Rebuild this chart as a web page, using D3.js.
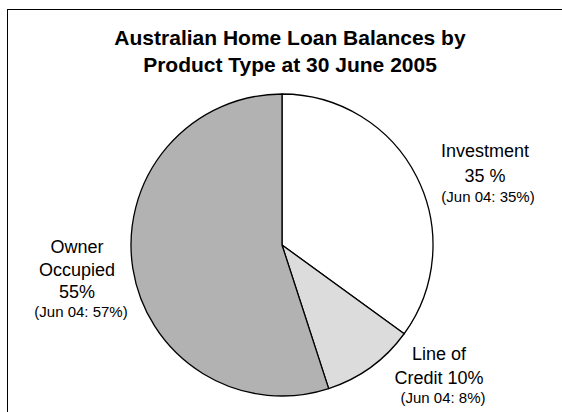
<!DOCTYPE html>
<html>
<head>
<meta charset="utf-8">
<style>
  body{
    margin:0;
    background-color:#fff;
  }
  #vis{
    display:block;
  }
  text{
    font-family: Arial, "Liberation Sans", sans-serif;
    fill:#000;
  }
</style>
<script src="https://d3js.org/d3.v7.min.js"></script>
</head>
<body>
<svg id="vis"></svg>
<script>
  var width = 562,
    height = 412;

  // data -------------------------------------------------
  var categories = ["Investment", "Line of Credit", "Owner Occupied"];
  var shares = [35, 10, 55];
  var priorShares = [35, 8, 57];
  var titleLines = ["Australian Home Loan Balances by", "Product Type at 30 June 2005"];
  var labelLines = [
    ["Investment", "35 %"],
    ["Line of", "Credit 10%"],
    ["Owner", "Occupied", "55%"]
  ];
  var priorLabels = priorShares.map(function(d){ return "(Jun 04: " + d + "%)"; });

  // layout -------------------------------------------------
  var cx = 282, cy = 245, radius = 151;
  var fills = ["#ffffff", "#dcdcdc", "#b2b2b2"];
  // label anchor (x centre, first baseline, line step, prior label baseline, prior x)
  var labelPos = [
    {x: 485, y: 157, step: 25, py: 202, px: 488},
    {x: 439, y: 360, step: 24, py: 403, px: 443},
    {x: 77, y: 253, step: 22.5, py: 317, px: 81}
  ];

  var svg = d3.select("#vis")
    .attr("width", width)
    .attr("height", height);

  // frame
  svg.append("rect")
    .attr("x", 7.5)
    .attr("y", 9.5)
    .attr("width", width)
    .attr("height", height)
    .style("fill", "#fff")
    .style("stroke", "#000")
    .style("stroke-width", 1);

  // title
  svg.append("g")
    .selectAll("text")
    .data(titleLines)
    .enter().append("text")
    .attr("x", 290)
    .attr("y", function(d, i){ return 45 + i * 27; })
    .attr("text-anchor", "middle")
    .style("font-size", "21px")
    .style("font-weight", "bold")
    .text(function(d){ return d; });

  // pie -------------------------------------------------
  var pie = d3.pie().sort(null).value(function(d){ return d; });
  var arc = d3.arc().innerRadius(0).outerRadius(radius);

  svg.append("g")
    .attr("transform", "translate(" + cx + "," + cy + ")")
    .selectAll("path")
    .data(pie(shares))
    .enter().append("path")
    .attr("d", arc)
    .style("fill", function(d, i){ return fills[i]; })
    .style("stroke", "#000")
    .style("stroke-width", 1.3)
    .style("stroke-linejoin", "round");

  // labels -------------------------------------------------
  categories.forEach(function(c, i) {
    var p = labelPos[i];
    var g = svg.append("g").attr("class", "label");
    g.selectAll("text.main")
      .data(labelLines[i])
      .enter().append("text")
      .attr("class", "main")
      .attr("x", p.x)
      .attr("y", function(d, j){ return p.y + j * p.step; })
      .attr("text-anchor", "middle")
      .style("font-size", "18px")
      .text(function(d){ return d; });
    g.append("text")
      .attr("x", p.px)
      .attr("y", p.py)
      .attr("text-anchor", "middle")
      .style("font-size", "15px")
      .text(priorLabels[i]);
  });
</script>
</body>
</html>
